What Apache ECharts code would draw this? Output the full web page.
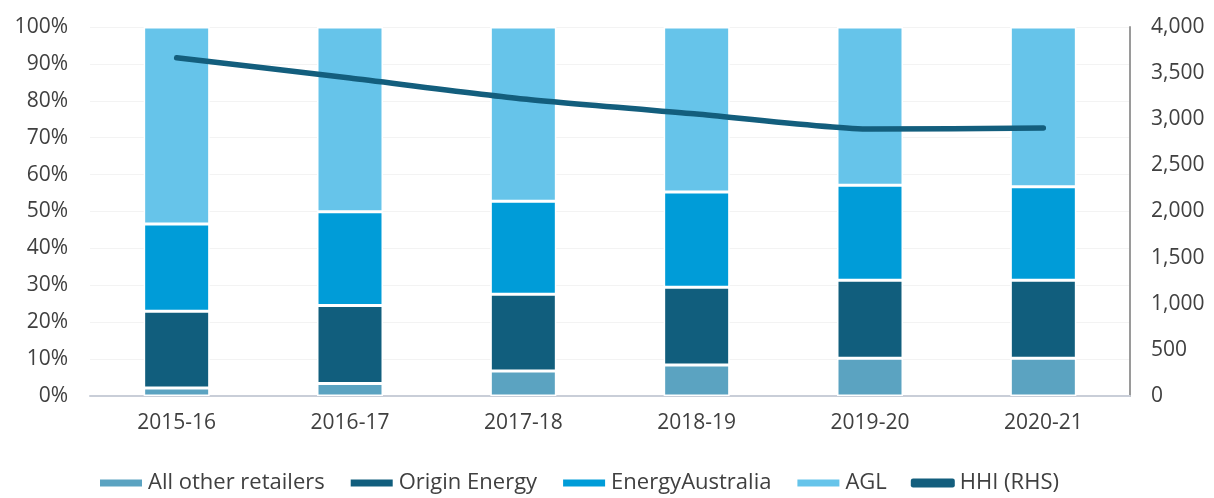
<!DOCTYPE html>
<html>
<head>
<meta charset="utf-8">
<script src="https://cdn.jsdelivr.net/npm/echarts@6/dist/echarts.min.js"></script>
<style>
  html, body { margin: 0; padding: 0; background: #fff; }
  #chart { width: 1214px; height: 498px; }
</style>
</head>
<body>
<div id="chart"></div>
<script>
// 年份
const years = ['2015-16', '2016-17', '2017-18', '2018-19', '2019-20', '2020-21']
// 市场份额 (%)
const otherRetailers = [2.2, 3.4, 6.8, 8.4, 10.2, 10.2]
const originEnergy = [20.8, 21.1, 20.8, 21.1, 21.2, 21.2]
const energyAustralia = [23.6, 25.4, 25.2, 25.8, 25.7, 25.3]
const agl = [53.4, 50.1, 47.2, 44.7, 42.9, 43.3]
// HHI 指数 (右轴)
const hhi = [3667, 3447, 3220, 3057, 2894, 2905]

const labelFont = { color: '#404040', fontSize: 21, fontFamily: 'Open Sans' }

function barSeries(name, data, color) {
  return {
    name: name,
    type: 'bar',
    stack: 'share',
    barWidth: 66,
    data: data,
    itemStyle: { color: color, borderColor: '#fff', borderWidth: 1.5 },
  }
}

let mychart = echarts.init(document.getElementById('chart'))
mychart.setOption({
  animation: false,
  grid: { left: 90, right: 84, top: 27, bottom: 102 },
  legend: {
    bottom: -1,
    left: 93,
    itemWidth: 44,
    itemHeight: 9,
    itemGap: 24,
    textStyle: { color: '#404040', fontSize: 22, fontFamily: 'Open Sans' },
    data: [
      { name: 'All other retailers', icon: 'rect' },
      { name: 'Origin Energy', icon: 'rect' },
      { name: 'EnergyAustralia', icon: 'rect' },
      { name: 'AGL', icon: 'rect' },
      { name: 'HHI (RHS)', icon: 'roundRect' },
    ],
  },
  xAxis: {
    type: 'category',
    data: years,
    axisLine: { lineStyle: { color: '#c9ced8', width: 2 } },
    axisTick: { show: false },
    axisLabel: Object.assign({ margin: 17 }, labelFont),
  },
  yAxis: [
    {
      type: 'value',
      min: 0,
      max: 100,
      interval: 10,
      axisLabel: Object.assign({ formatter: '{value}%', margin: 22 }, labelFont),
      axisLine: { show: false },
      splitLine: { lineStyle: { color: '#f3f3f3', width: 1 } },
    },
    {
      type: 'value',
      min: 0,
      max: 4000,
      interval: 500,
      position: 'right',
      axisLabel: Object.assign({
        margin: 21,
        formatter: (v) => v.toLocaleString('en-US'),
      }, labelFont),
      axisLine: { show: true, lineStyle: { color: '#9a9a9a', width: 2 } },
      splitLine: { show: false },
    },
  ],
  series: [
    barSeries('All other retailers', otherRetailers, '#5ba3c1'),
    barSeries('Origin Energy', originEnergy, '#115e7d'),
    barSeries('EnergyAustralia', energyAustralia, '#009cd8'),
    barSeries('AGL', agl, '#66c4ea'),
    {
      name: 'HHI (RHS)',
      type: 'line',
      yAxisIndex: 1,
      data: hhi,
      symbol: 'none',
      smooth: 0.2,
      lineStyle: { color: '#135e7d', width: 5.5, cap: 'round' },
      itemStyle: { color: '#135e7d' },
    },
  ],
})
</script>
</body>
</html>
